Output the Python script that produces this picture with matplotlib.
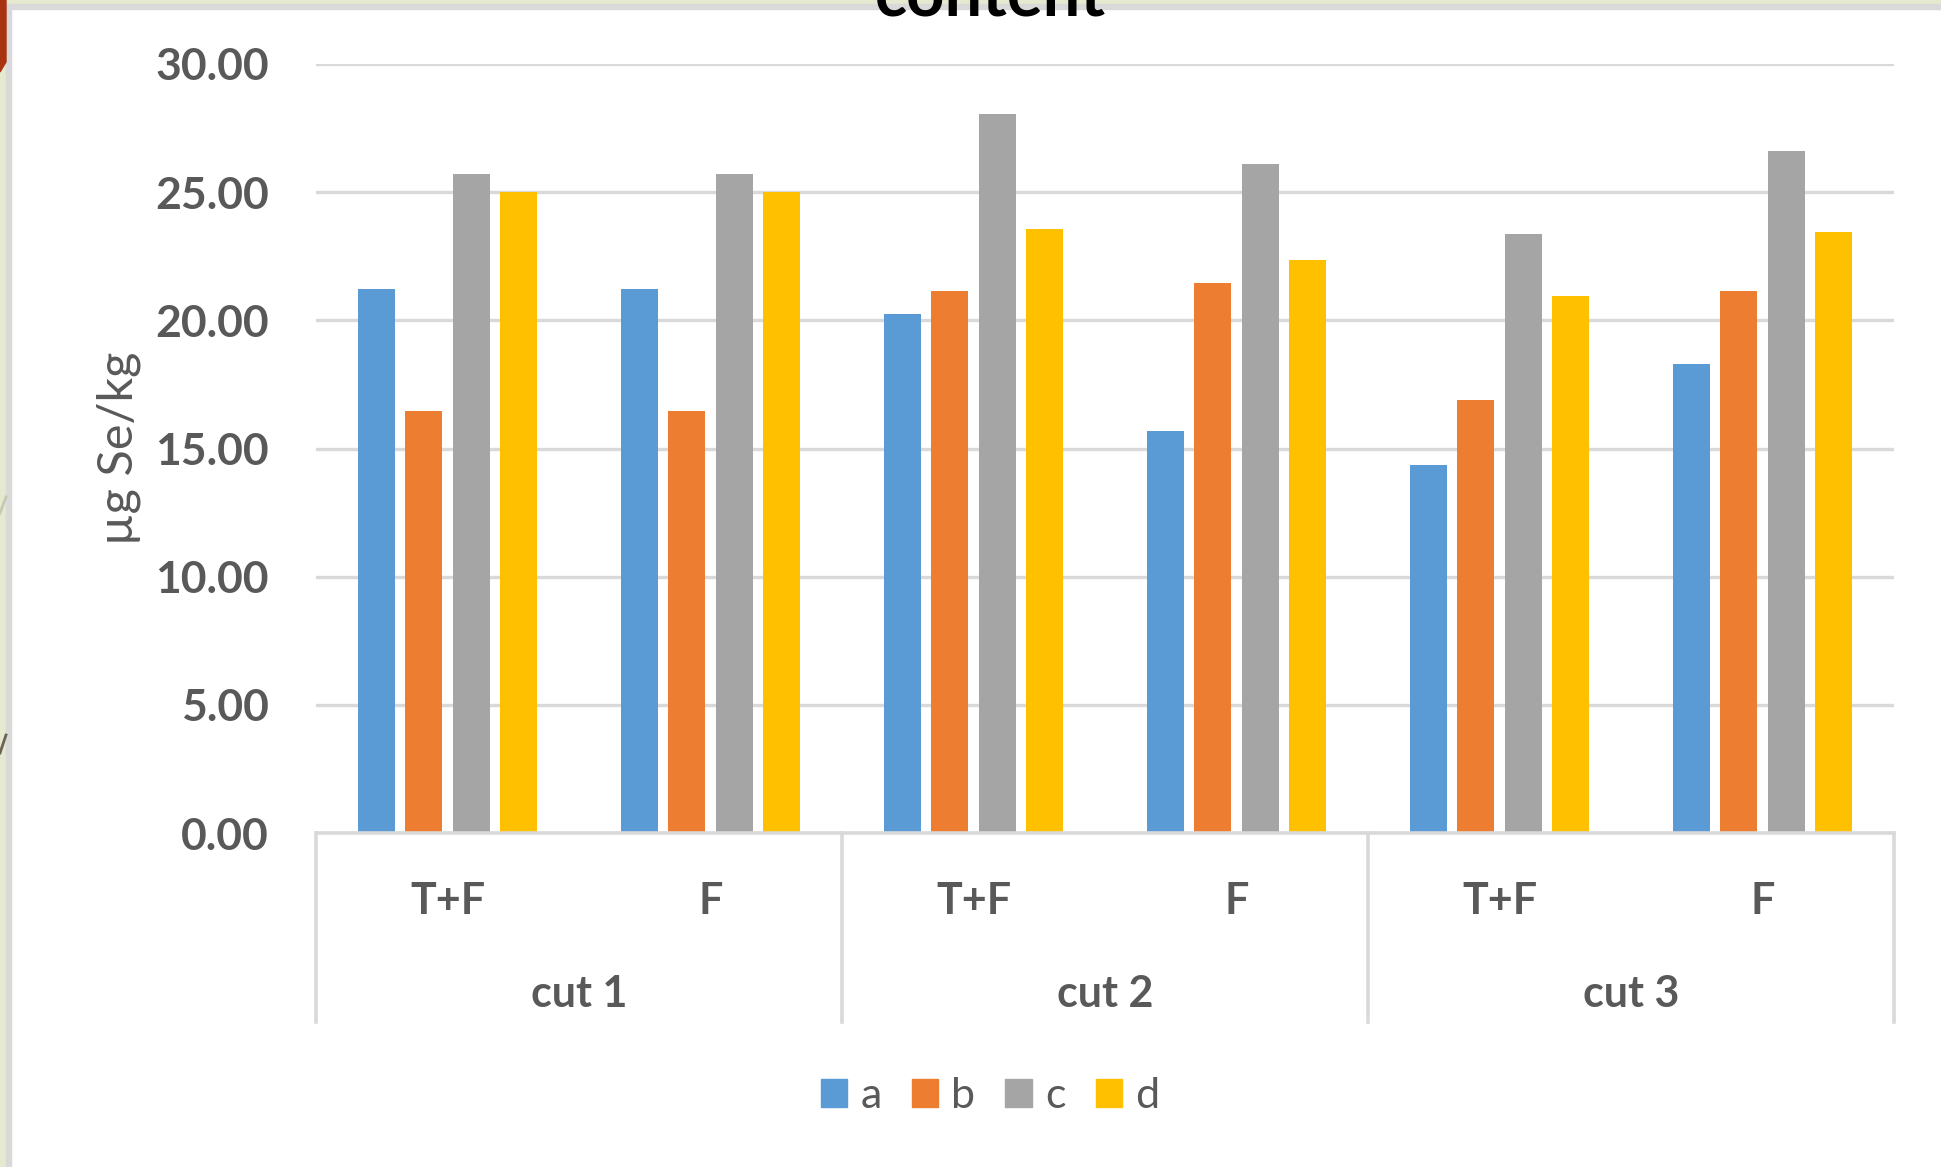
import matplotlib.pyplot as plt
from matplotlib.patches import Rectangle, Polygon, Patch
from matplotlib.lines import Line2D
import matplotlib.transforms as mtransforms

# Se content per treatment and cut
cuts = ['cut 1', 'cut 2', 'cut 3']
treatments = ['T+F', 'F']
series_names = ['a', 'b', 'c', 'd']
a = [21.24, 21.24, 20.23, 15.68, 14.35, 18.31]
b = [16.48, 16.48, 21.15, 21.46, 16.88, 21.13]
c = [25.69, 25.69, 28.05, 26.09, 23.36, 26.60]
d = [25.00, 25.00, 23.55, 22.36, 20.94, 23.45]
yticks = [0, 5, 10, 15, 20, 25, 30]

colors = ['#5b9bd5', '#ed7d31', '#a5a5a5', '#ffc000']
txt = '#595959'
grid = '#d9d9d9'

W, H = 1941, 1167
fig = plt.figure(figsize=(W / 100, H / 100), dpi=100, facecolor='white')
plt.rcParams['font.family'] = ['Lato', 'DejaVu Sans']

def fx(px):
    return px / W

def fy(py):
    return 1 - py / H

# slide frame around the chart
fig.patches.append(Rectangle((0, 0), fx(6), 1, transform=fig.transFigure,
                             color='#e5e9d0', zorder=0))
fig.patches.append(Rectangle((0, fy(4)), 1, 4 / H, transform=fig.transFigure,
                             color='#e5e9d0', zorder=0))
fig.patches.append(Rectangle((fx(6), 0), fx(5), fy(4), transform=fig.transFigure,
                             color=grid, zorder=0))
fig.patches.append(Rectangle((fx(6), fy(9)), 1, 5 / H, transform=fig.transFigure,
                             color=grid, zorder=0))
fig.patches.append(Polygon([(0, 1), (fx(6), 1), (fx(6), fy(62)), (0, fy(72))],
                           closed=True, transform=fig.transFigure,
                           color='#a93310', zorder=1))
fig.lines.append(Line2D([0, fx(6)], [fy(513), fy(497)], transform=fig.transFigure,
                        color='#c9c8b0', lw=2))
fig.lines.append(Line2D([0, fx(6)], [fy(753), fy(735)], transform=fig.transFigure,
                        color='#6b6450', lw=2))

ax = fig.add_axes([fx(316), fy(833), fx(1894 - 316), (833 - 64) / H])
ax.set_zorder(2)

values = [a, b, c, d]
x = list(range(len(cuts) * len(treatments)))
pitch = 0.18
width = 0.14
for i, (vals, col, name) in enumerate(zip(values, colors, series_names)):
    off = (i - 1.5) * pitch
    ax.bar([xi + off for xi in x], vals, width=width, color=col, label=name,
           zorder=3)

ax.set_xlim(-0.5, len(x) - 0.5)
ax.set_ylim(0, 30)
ax.set_yticks(yticks)
ax.set_yticklabels([f'{v:.2f}' for v in yticks], fontsize=32,
                   fontweight='bold', color=txt)
ax.tick_params(axis='y', length=0, pad=34)
ax.set_xticks([])
for s in ax.spines.values():
    s.set_visible(False)
ax.yaxis.grid(True, color=grid, lw=2.4, zorder=0)
ax.set_axisbelow(True)

ax.set_ylabel('µg Se/kg', fontsize=35, color=txt, labelpad=10)

# two-level category axis below the plot
trans = mtransforms.blended_transform_factory(ax.transData, ax.transAxes)
bottom = -(1022 - 833) / (833 - 64)
ax.plot([-0.5, len(x) - 0.5], [0, 0], transform=trans, color=grid, lw=2.6,
        clip_on=False, zorder=4)
for k in range(len(cuts) + 1):
    xe = -0.5 + k * len(treatments)
    ax.plot([xe, xe], [0, bottom], transform=trans, color=grid, lw=2.6,
            clip_on=False)
for k, cut in enumerate(cuts):
    for j, t in enumerate(treatments):
        ax.text(k * len(treatments) + j, -(901 - 833) / 769, t, transform=trans,
                ha='center', va='center', fontsize=31, fontweight='bold',
                color=txt)
    ax.text(k * len(treatments) + 0.5, -(994 - 833) / 769, cut, transform=trans,
            ha='center', va='center', fontsize=31, fontweight='bold', color=txt)

handles = [Patch(color=col, label=name) for col, name in zip(colors, series_names)]
fig.legend(handles=handles, loc='center', bbox_to_anchor=(fx(990), fy(1096)),
           ncol=4, frameon=False, fontsize=31, handlelength=0.62,
           handleheight=0.62, handletextpad=0.3, columnspacing=0.7,
           labelcolor=txt)

# chart title, mostly above the visible area
fig.text(fx(990), fy(15), 'content', ha='center', va='baseline', fontsize=48,
         fontweight='bold', color='black', zorder=10)

fig.savefig('out.png', dpi=100, facecolor='white')
